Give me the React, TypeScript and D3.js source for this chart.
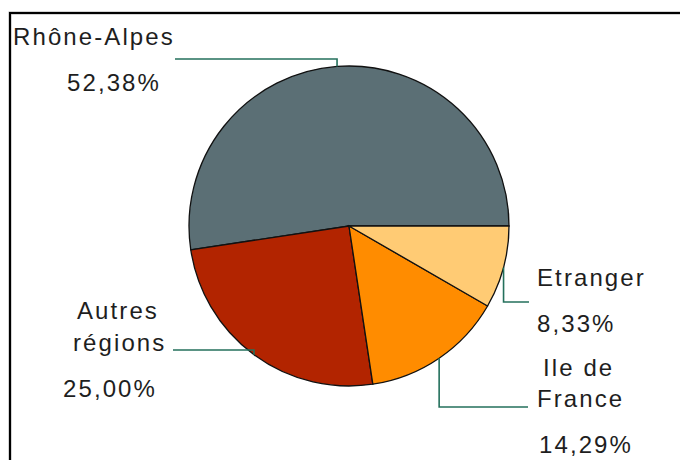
import React from 'react';
import * as d3 from 'd3';

const regions = ['Rhône-Alpes', 'Autres régions', 'Ile de France', 'Etranger'];
const shares = [52.38, 25.0, 14.29, 8.33];
const colors = ['#5b6f75', '#b22400', '#ff8c00', '#ffcb74'];

// label lines (text lines, x, baseline) and the leader elbow per slice
const labelLines = [
  [['Rhône-Alpes', 13, 45]],
  [['Autres', 77, 319], ['régions', 73, 351]],
  [['Ile de', 543, 376], ['France', 537, 407]],
  [['Etranger', 537, 286]],
];
const valuePos = [[67, 91], [63, 397], [539, 453], [537, 332]];
const elbows = [[59, 175], [350, 173], [407, 528], [302, 529]];

const W = 680;
const H = 460;
const cx = 349;
const cy = 226;
const r = 160;

const fr = d3.formatLocale({ decimal: ',', thousands: ' ', grouping: [3], currency: ['', ' €'] });
const pct = fr.format('.2f');

export default function App() {
  const data = regions.map((name, i) => ({ name, value: shares[i], i }));
  const pie = d3.pie<any>()
    .sort(null)
    .value(d => d.value)
    .startAngle(Math.PI / 2)
    .endAngle(Math.PI / 2 - 2 * Math.PI);
  const arcs = pie(data);
  const arc = d3.arc<any>().innerRadius(0).outerRadius(r);
  const rim = d3.arc<any>().innerRadius(r).outerRadius(r);

  const textStyle = { fontFamily: 'Liberation Sans, Arial, sans-serif', fontSize: 24, letterSpacing: 2.1, fill: '#1e1e1e' };

  return (
    <svg width={W} height={H} style={{ position: 'absolute', left: 0, top: 0, background: '#fff' }}>
      <path d={`M10,${H}V13H${W}`} fill="none" stroke="#aaa" strokeWidth={3} />
      <path d={`M10,${H}V13H${W}`} fill="none" stroke="#000" strokeWidth={2} />
      <g transform={`translate(${cx},${cy})`}>
        {arcs.map(a => (
          <path key={a.data.name} d={arc(a) as string} fill={colors[a.data.i]} stroke="#111" strokeWidth={1.3} />
        ))}
      </g>
      {arcs.map(a => {
        const [px, py] = rim.centroid(a);
        const [ey, ex] = elbows[a.data.i];
        const x0 = cx + px;
        const y0 = cy + py;
        return (
          <path key={'l' + a.data.name} d={`M${x0},${y0}V${ey}H${ex}`} fill="none" stroke="#24705c" strokeWidth={1.6} />
        );
      })}
      {labelLines.map((lines, i) => (
        <g key={'t' + i}>
          {lines.map(([t, x, y]) => (
            <text key={t as string} x={x as number} y={y as number} style={textStyle}>{t}</text>
          ))}
          <text x={valuePos[i][0]} y={valuePos[i][1]} style={textStyle}>{pct(shares[i]) + '%'}</text>
        </g>
      ))}
    </svg>
  );
}
